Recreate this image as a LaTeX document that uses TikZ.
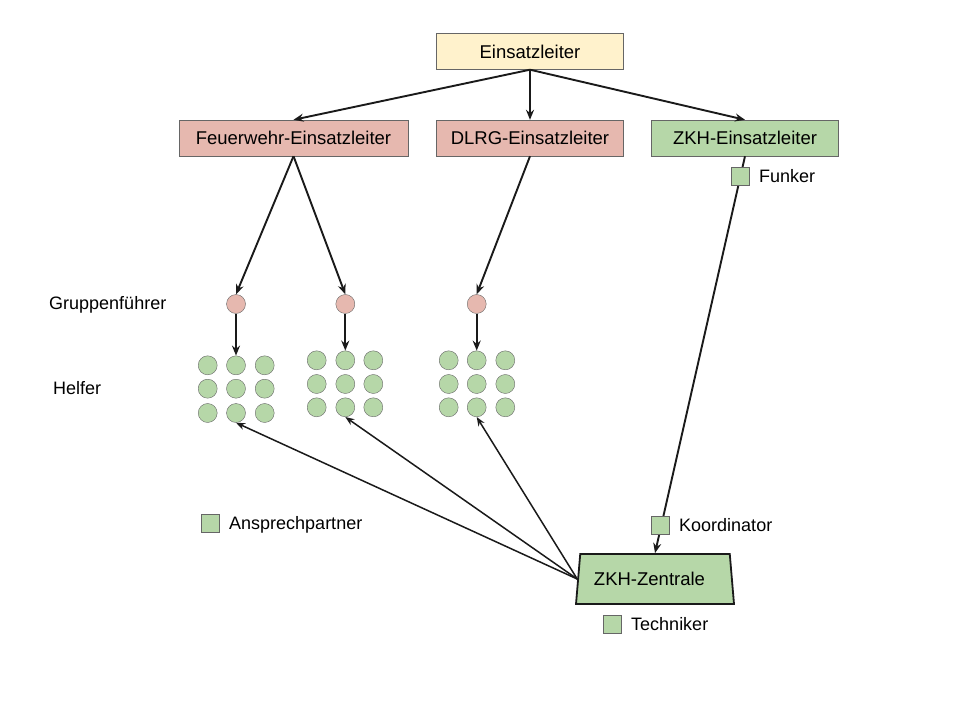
\documentclass[tikz,border=0pt]{standalone}
\usepackage{fontspec}
\setmainfont{Liberation Sans}
\usepackage{tikz}
\usepackage{xcolor}
\usetikzlibrary{shapes.geometric,arrows.meta}
\definecolor{vyellow}{HTML}{fff2cc}
\definecolor{vpink}{HTML}{e6b8af}
\definecolor{vgreen}{HTML}{b6d7a8}
\definecolor{vgray}{HTML}{666666}
\definecolor{vdarkgray}{HTML}{1a1a1a}

\begin{document}
\begin{tikzpicture}[x=1pt,y=-1pt,
		box/.style={draw=vgray, minimum height=36pt, minimum width=187pt, inner sep=0pt, text height=13pt, text depth=0pt, font=\fontsize{18.5}{22}\selectfont},
		dot/.style={circle, draw=vgray, minimum size=19pt, inner sep=0pt},
		sq/.style={draw=vgray, fill=vgreen, minimum size=18pt, inner sep=0pt},
		lbl/.style={anchor=west, inner sep=0pt, text height=13pt, text depth=0pt, font=\fontsize{18}{22}\selectfont},
		arr/.style={-{Stealth[length=10pt,width=8pt]}, line width=1.9pt, color=vdarkgray},
		thinarr/.style={-{Stealth[length=9pt,width=7pt]}, line width=1.5pt, color=vdarkgray}]
		\useasboundingbox (0,0) rectangle (960,720);
		\node[box, fill=vyellow] (EL) at (530,51.5) {Einsatzleiter};
		\node[box, fill=vpink, minimum width=229pt] (FW) at (293.5,138) {Feuerwehr-Einsatzleiter};
		\node[box, fill=vpink] (DL) at (530,138) {DLRG-Einsatzleiter};
		\node[box, fill=vgreen] (ZK) at (745,138) {ZKH-Einsatzleiter};
		\node[trapezium, trapezium angle=76, trapezium stretches body, minimum width=158pt, minimum height=50pt, inner sep=2pt, draw=vdarkgray, line width=1.8pt, fill=vgreen, text height=13pt, text depth=0pt, font=\fontsize{18.5}{22}\selectfont] (ZZ) at (655,579) {ZKH-Zentrale\hspace*{11pt}};
		% Gruppenfuehrer
		\node[dot, fill=vpink] (G1) at (236,304) {};
		\node[dot, fill=vpink] (G2) at (345.3,304) {};
		\node[dot, fill=vpink] (G3) at (476.7,304) {};
		% Helfer
		\node[dot, fill=vgreen] (A1) at (207.7,365.3) {}; \node[dot, fill=vgreen] (A2) at (236,365.3) {}; \node[dot, fill=vgreen] (A3) at (264.7,365.3) {};
		\node[dot, fill=vgreen] (A4) at (207.7,388.7) {}; \node[dot, fill=vgreen] (A5) at (236,388.7) {}; \node[dot, fill=vgreen] (A6) at (264.7,388.7) {};
		\node[dot, fill=vgreen] (A7) at (207.7,413) {}; \node[dot, fill=vgreen] (A8) at (236,413) {}; \node[dot, fill=vgreen] (A9) at (264.7,413) {};
		\node[dot, fill=vgreen] (B1) at (316.7,360.3) {}; \node[dot, fill=vgreen] (B2) at (345.3,360.3) {}; \node[dot, fill=vgreen] (B3) at (373.3,360.3) {};
		\node[dot, fill=vgreen] (B4) at (316.7,384) {}; \node[dot, fill=vgreen] (B5) at (345.3,384) {}; \node[dot, fill=vgreen] (B6) at (373.3,384) {};
		\node[dot, fill=vgreen] (B7) at (316.7,407.3) {}; \node[dot, fill=vgreen] (B8) at (345.3,407.3) {}; \node[dot, fill=vgreen] (B9) at (373.3,407.3) {};
		\node[dot, fill=vgreen] (C1) at (448.7,360.3) {}; \node[dot, fill=vgreen] (C2) at (476.7,360.3) {}; \node[dot, fill=vgreen] (C3) at (505.3,360.3) {};
		\node[dot, fill=vgreen] (C4) at (448.7,384) {}; \node[dot, fill=vgreen] (C5) at (476.7,384) {}; \node[dot, fill=vgreen] (C6) at (505.3,384) {};
		\node[dot, fill=vgreen] (C7) at (448.7,407.3) {}; \node[dot, fill=vgreen] (C8) at (476.7,407.3) {}; \node[dot, fill=vgreen] (C9) at (505.3,407.3) {};
		\node[lbl] (gf) at (49,303) {Gruppenführer};
		\node[lbl] (hf) at (53,388) {Helfer};
		% Verbindungen
		\draw[arr] (EL.south) -- (FW.north);
		\draw[arr] (EL.south) -- (DL.north);
		\draw[arr] (EL.south) -- (ZK.north);
		\draw[arr] (FW.south) -- (G1.north);
		\draw[arr] (FW.south) -- (G2.north);
		\draw[arr] (DL.south) -- (G3.north);
		\draw[arr] (G1.south) -- (A2.north);
		\draw[arr] (G2.south) -- (B2.north);
		\draw[arr] (G3.south) -- (C2.north);
		\draw[arr] (ZK.south) -- (ZZ.north);
		\draw[thinarr] (ZZ.west) -- (A8.south);
		\draw[thinarr] (ZZ.west) -- (B8.south);
		\draw[thinarr] (ZZ.west) -- (C8.south);
		% Rollen
		\node[sq] (fu) at (740,176) {};
		\node[lbl] (fut) at (759,176) {Funker};
		\node[sq] (ap) at (210.5,523) {};
		\node[lbl] (apt) at (229,523) {Ansprechpartner};
		\node[sq] (ko) at (660.5,525) {};
		\node[lbl] (kot) at (679,525) {Koordinator};
		\node[sq] (te) at (612.3,623.7) {};
		\node[lbl] (tet) at (631,623.7) {Techniker};
	\end{tikzpicture}
\end{document}
